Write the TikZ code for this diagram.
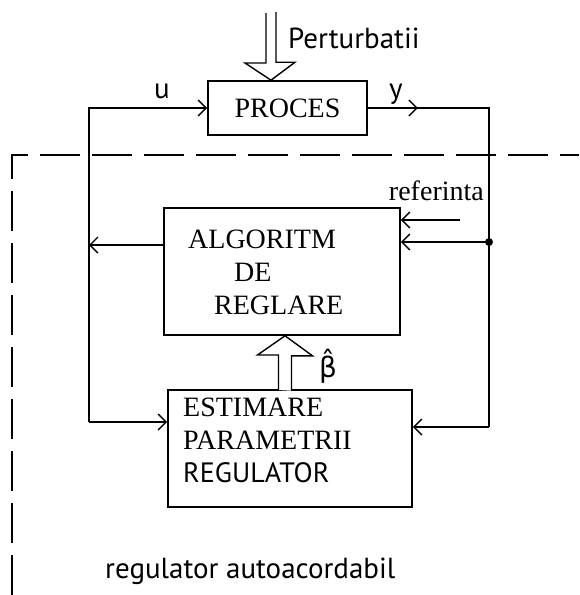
\documentclass[tikz,border=0pt]{standalone}
\usepackage{fontspec}
\setmainfont{Liberation Serif}
\setsansfont{PT Sans}
\newfontfamily\grkfont{DejaVu Sans}
\usetikzlibrary{arrows.meta,calc,positioning,decorations.markings}
\tikzset{
  block/.style={
    draw,
    line width=1.6pt,
    shape=rectangle,
    inner sep=0pt,
    font=\fontsize{28}{32.5}\selectfont
  },
  caps/.style={
    inner sep=0pt,
    align=left,
    font=\fontsize{28}{33}\selectfont
  },
  lbl/.style={
    inner sep=0pt,
    font=\sffamily\fontsize{29}{32}\selectfont
  },
  wire/.style={
    line width=1.4pt,
    -{Straight Barb[length=8pt,width=16pt]}
  },
  midtip/.style={
    decoration={markings,
      mark=at position 50pt with {\arrow{Straight Barb[length=8pt,width=16pt]}}},
    postaction={decorate}
  },
  hollow/.style={
    draw,
    fill=white,
    line width=1.4pt
  }
}

\begin{document}
\begin{tikzpicture}[x=1pt,y=-1pt]
  \useasboundingbox (0,0) rectangle (579,595);
  \node[block,minimum width=159pt,minimum height=54pt] (pr) at (287.5,108) {PROCES};
  \node[block,minimum width=236pt,minimum height=127pt] (alg) at (282,271.5) {};
  \node[block,minimum width=244pt,minimum height=117pt] (est) at (290,448.5) {};
  \node[caps,anchor=north west] (algt) at (188,230) {ALGORITM\\\hspace*{46pt}DE\\\hspace*{26pt}REGLARE};
  \node[caps,anchor=north west] (estt) at (183,398) {ESTIMARE\\PARAMETRII\\{\sffamily REGULATOR}};

  \draw[line width=1.6pt,dash pattern=on 40pt off 12pt] (12,595) -- (12,155) -- (579,155);

  \coordinate (lt) at (89,108);
  \coordinate (lb) at (89,422);
  \coordinate (rt) at (489,108);
  \coordinate (rb) at (489,427);
  \coordinate (dot) at (489,242);
  \coordinate (ref) at (460,220);
  \coordinate (ao) at ([yshift=26.5pt]alg.west);
  \draw[wire] (lb) -- (lt) -- (pr.west);
  \draw[wire] (lb) -- (lb -| est.west);
  \draw[wire] (ao) -- (ao -| lt);
  \draw[line width=1.4pt,midtip] (pr.east) -- (rt) -- (rb);
  \draw[wire] (rb) -- (rb -| est.east);
  \draw[wire] (dot) -- (dot -| alg.east);
  \draw[wire] (ref) -- (ref -| alg.east);
  \fill (dot) circle (4pt);

  \coordinate (pt) at (271,13);
  \draw[hollow] (pt) ++(-5,0) -- ++(0,50) -- ++(-21,0) -- (pt |- pr.north) -- ++(24,-18) -- ++(-19,0) -- ++(0,-50);
  \coordinate (bt) at (285,390);
  \draw[hollow] (bt) ++(-6.5,0) -- ++(0,-35) -- ++(-21,0) -- (bt |- alg.south) -- ++(27.5,20) -- ++(-21,0) -- ++(0,35);

  \node[lbl,anchor=base west] (pert) at (288,48) {Perturbatii};
  \node[lbl,anchor=base] (u) at (162,98) {u};
  \node[lbl,anchor=base] (y) at (396,98) {y};
  \node[caps,anchor=base east] (reft) at (484,200) {referinta};
  \node[lbl,anchor=base,font=\grkfont\fontsize{28}{32}\selectfont] (beta) at (328,377) {\^{β}};
  \node[lbl,anchor=base west] (ra) at (105,578) {regulator autoacordabil};
\end{tikzpicture}
\end{document}
